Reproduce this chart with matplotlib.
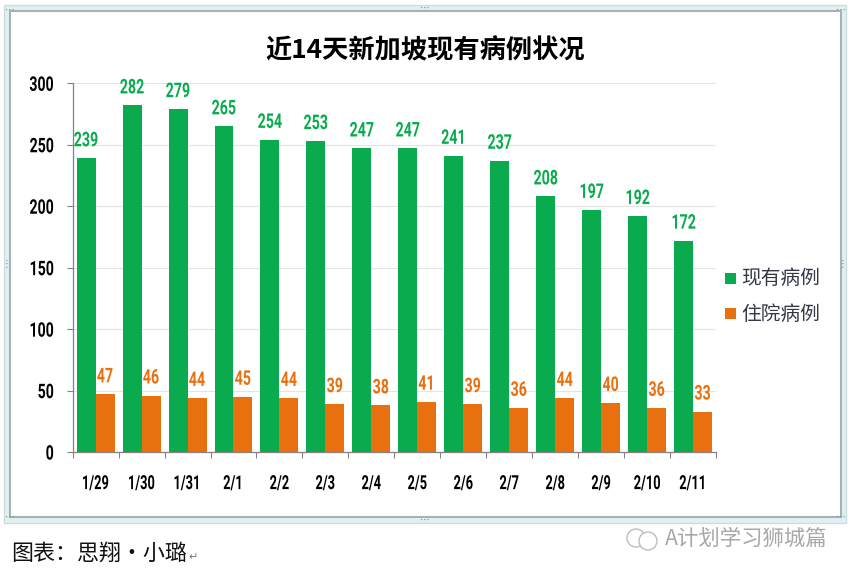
import matplotlib
matplotlib.use("Agg")
import matplotlib.pyplot as plt
import numpy as np
from matplotlib.patches import Rectangle
from matplotlib.patheffects import AbstractPathEffect
from matplotlib.transforms import Affine2D

W, H = 853, 577
NUM = 'Roboto'
CJK = ['Noto Sans CJK SC', 'DejaVu Sans']

dates = ['1/29','1/30','1/31','2/1','2/2','2/3','2/4','2/5','2/6','2/7','2/8','2/9','2/10','2/11']
current_cases = [239,282,279,265,254,253,247,247,241,237,208,197,192,172]
hospitalized = [47,46,44,45,44,39,38,41,39,36,44,40,36,33]
yticks = [0,50,100,150,200,250,300]
GREEN, ORANGE = '#0AAB4E', '#E8700E'


class Squeeze(AbstractPathEffect):
    """Draw text horizontally condensed; no condensed face is installed."""
    def __init__(self, sx, anchor=0.5):
        super().__init__()
        self.sx, self.anchor = sx, anchor

    def draw_path(self, renderer, gc, tpath, affine, rgbFace=None):
        v = tpath.vertices
        x0, x1 = v[:, 0].min(), v[:, 0].max()
        pivot = x0 + (x1 - x0) * self.anchor
        t = Affine2D().translate(-pivot, 0).scale(self.sx, 1).translate(pivot, 0) + affine
        renderer.draw_path(gc, tpath, t, rgbFace)


fig = plt.figure(figsize=(W/100, H/100), dpi=100, facecolor='white')

def px_rect(x0, y0, x1, y1, zorder=-2, **kw):
    fig.add_artist(Rectangle((x0/W, 1-y1/H), (x1-x0)/W, (y1-y0)/H, transform=fig.transFigure, zorder=zorder, **kw))

px_rect(4.5, 5, 846.5, 522.5, facecolor='#E3F0F2', edgecolor='#CBDDE0', lw=1)
px_rect(10, 11, 841.5, 517, zorder=-1, facecolor='white', edgecolor='#A3B4B9', lw=1.5)

# resize handles of the pasted object
for (x, y) in [(425, 8), (425, 520), (7, 264), (843, 264), (10, 10), (841, 10), (10, 517), (841, 517)]:
    fig.text(x/W, 1-y/H, '⋮' if x in (7, 843) else '⋯', fontsize=7, color='#6F7F84', ha='center', va='center')

ax = fig.add_axes([72.6/W, 1-452.1/H, 643.6/W, (452.1-83.3)/H])
ax.patch.set_alpha(0)
ax.set_xlim(0, 14); ax.set_ylim(0, 300)
x = np.arange(14) + 0.5
bw = 19/46
ax.bar(x-bw/2, current_cases, bw, color=GREEN, zorder=3)
ax.bar(x+bw/2, hospitalized, bw, color=ORANGE, zorder=3)
for xs, vals, col in [(x-bw/2, current_cases, GREEN), (x+bw/2, hospitalized, ORANGE)]:
    for xi, v in zip(xs, vals):
        ax.text(xi, v+6.5, str(v), color=col, fontsize=14.6, fontweight='bold', family=NUM,
                ha='center', va='bottom', zorder=4, path_effects=[Squeeze(0.7)])

ax.set_yticks(yticks)
ax.set_xticks(np.arange(15))
ax.set_xticklabels([])
ax.grid(axis='y', color='#E4E4E4', lw=0.8, zorder=0)
ax.set_axisbelow(True)
for s in ('top', 'right'):
    ax.spines[s].set_visible(False)
for s in ('left', 'bottom'):
    ax.spines[s].set_color('#8A8080'); ax.spines[s].set_linewidth(0.9)
ax.tick_params(axis='y', direction='out', length=4.3, width=0.8, color='#8A8080', pad=9, labelsize=14.5)
ax.tick_params(axis='x', direction='out', length=4.3, width=0.8, color='#8A8080')
for t in ax.get_yticklabels():
    t.set_family(NUM); t.set_fontweight('bold'); t.set_color('black')
    t.set_path_effects([Squeeze(0.7, anchor=1)])
for xi, d in zip(x, dates):
    ax.annotate(d, (xi, 0), xytext=(0, -32), textcoords='offset pixels', annotation_clip=False,
                ha='center', va='center', fontsize=14, fontweight='bold', family=NUM, color='black',
                path_effects=[Squeeze(0.66)])

fig.text(425/W, 1-51/H, '近14天新加坡现有病例状况', fontsize=18.9, fontweight='bold', family=CJK, ha='center', va='center', color='black')

for y, c, lab in [(278, GREEN, '现有病例'), (313, ORANGE, '住院病例')]:
    px_rect(725, y-5.5, 736, y+5.5, zorder=2, facecolor=c, edgecolor='none')
    fig.text(741/W, 1-(y+1)/H, lab, fontsize=14.2, family=CJK, color='#333A45', ha='left', va='center')

fig.text(11/W, 1-554/H, '图表：思翔•小璐', fontsize=15.8, family=CJK, color='#111111', ha='left', va='center')
fig.text(188/W, 1-557/H, '↵', fontsize=8, family=['DejaVu Sans'], color='#777777', ha='left', va='center')
fig.text(665/W, 1-539/H, 'A计划学习狮城篇', fontsize=15.4, family=CJK, color='#A8A8A8', ha='left', va='center')
# WeChat-style watermark glyph
ax2 = fig.add_axes([622/W, 1-552/H, 40/W, 26/H]); ax2.axis('off'); ax2.set_xlim(0, 40); ax2.set_ylim(0, 26)
ax2.add_patch(plt.Circle((14, 14), 9, fill=False, ec='#BDBDBD', lw=1))
ax2.add_patch(plt.Circle((26, 11), 9, ec='#BDBDBD', lw=1, fc='white'))

fig.savefig('out.png', dpi=100, facecolor='white')
